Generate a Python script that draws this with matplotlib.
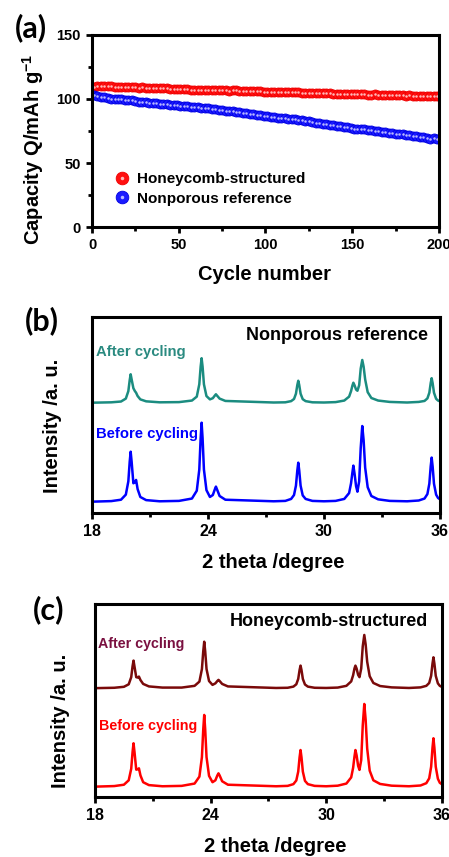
import numpy as np
import matplotlib
matplotlib.use("Agg")
import matplotlib.pyplot as plt
from matplotlib.legend_handler import HandlerTuple

plt.rcParams['font.family'] = ['Liberation Sans', 'DejaVu Sans']
plt.rcParams['font.weight'] = 'bold'
plt.rcParams['axes.labelweight'] = 'bold'
plt.rcParams['mathtext.fontset'] = 'custom'
plt.rcParams['mathtext.bf'] = 'Liberation Sans:bold'
plt.rcParams['mathtext.rm'] = 'Liberation Sans:bold'

# --- (a) cycling data, every second cycle ---
cycles = list(range(1, 200, 2))
cap_honeycomb = [
    109.6, 109.9, 110.1, 110.0, 109.8, 109.7, 109.5, 109.6, 109.4, 109.3,
    109.2, 109.3, 109.0, 108.8, 108.9, 108.7, 108.5, 108.6, 108.4, 108.3,
    108.1, 108.2, 107.9, 107.7, 107.8, 107.6, 107.4, 107.5, 107.2, 107.1,
    107.0, 106.9, 107.1, 107.0, 106.8, 106.9, 106.7, 106.8, 106.6, 106.5,
    106.7, 106.6, 106.4, 106.5, 106.3, 106.4, 106.2, 106.0, 105.8, 105.7,
    105.5, 105.6, 105.4, 105.5, 105.3, 105.4, 105.2, 105.3, 105.1, 105.0,
    104.9, 104.8, 104.7, 104.8, 104.6, 104.5, 104.6, 104.4, 104.3, 104.2,
    104.0, 103.9, 104.1, 103.8, 103.7, 103.9, 103.6, 103.5, 103.7, 103.4,
    103.3, 103.5, 103.2, 103.1, 103.0, 102.9, 103.1, 102.8, 102.7, 102.9,
    102.6, 102.7, 102.5, 102.6, 102.4, 102.3, 102.5, 102.2, 102.1, 102.0]
cap_nonporous = [
    102.8, 102.3, 101.8, 101.2, 100.7, 100.3, 100.0, 99.8, 99.6, 99.3,
    99.0, 98.8, 98.4, 97.9, 97.6, 97.4, 97.1, 96.9, 96.6, 96.4,
    96.2, 95.9, 95.6, 95.3, 95.0, 94.7, 94.4, 94.2, 94.0, 93.7,
    93.4, 93.2, 93.0, 92.6, 92.2, 91.9, 91.5, 91.1, 90.8, 90.5,
    90.2, 89.9, 89.6, 89.2, 88.8, 88.3, 87.9, 87.5, 87.1, 86.7,
    86.3, 86.0, 85.7, 85.5, 85.3, 85.0, 84.7, 84.4, 84.0, 83.6,
    83.2, 82.8, 82.4, 82.0, 81.5, 81.0, 80.5, 80.1, 79.8, 79.5,
    79.2, 78.8, 78.3, 77.8, 77.3, 76.9, 76.6, 76.4, 76.2, 75.9,
    75.6, 75.2, 74.8, 74.4, 74.0, 73.6, 73.2, 72.9, 72.6, 72.3,
    72.0, 71.6, 71.2, 70.8, 70.4, 70.0, 69.4, 69.0, 69.2, 69.0]

# --- (b), (c) XRD patterns (offset, arbitrary units) ---
two_theta = [
    18.0, 19.0, 19.5, 19.75, 19.88, 19.95, 20.0, 20.05, 20.14, 20.22, 20.28, 20.36, 20.5, 20.8, 21.5,
    22.5, 23.17, 23.42, 23.55, 23.62, 23.67, 23.72, 23.79, 23.92, 24.1, 24.25, 24.35, 24.41, 24.47, 24.6, 24.9,
    27.4, 28.0, 28.3, 28.45, 28.55, 28.62, 28.67, 28.72, 28.79, 28.9, 29.05, 29.4, 30.0,
    30.6, 31.05, 31.3, 31.4, 31.47, 31.52, 31.58, 31.66, 31.73, 31.82, 31.9, 31.98, 32.05, 32.13, 32.26, 32.45, 32.8, 33.4,
    34.3, 34.9, 35.2, 35.35, 35.45, 35.52, 35.57, 35.62, 35.69, 35.8, 35.9, 36.0]
np_before = [
    0.056, 0.059, 0.066, 0.092, 0.16, 0.26, 0.311, 0.26, 0.15, 0.155, 0.167, 0.12, 0.08, 0.064, 0.058,
    0.060, 0.072, 0.112, 0.22, 0.38, 0.459, 0.38, 0.22, 0.115, 0.08, 0.09, 0.118, 0.133, 0.118, 0.085, 0.066,
    0.058, 0.06, 0.07, 0.09, 0.138, 0.215, 0.255, 0.215, 0.138, 0.088, 0.07, 0.06, 0.058,
    0.06, 0.07, 0.1, 0.15, 0.205, 0.240, 0.2, 0.135, 0.107, 0.16, 0.33, 0.442, 0.37, 0.23, 0.13, 0.085, 0.068, 0.06,
    0.058, 0.062, 0.072, 0.095, 0.148, 0.236, 0.281, 0.236, 0.148, 0.092, 0.075, 0.068]
np_after = [
    0.561, 0.563, 0.567, 0.582, 0.62, 0.676, 0.706, 0.68, 0.635, 0.62, 0.612, 0.595, 0.578, 0.568, 0.563,
    0.564, 0.572, 0.592, 0.655, 0.745, 0.788, 0.745, 0.655, 0.595, 0.578, 0.584, 0.597, 0.604, 0.597, 0.582, 0.57,
    0.562, 0.563, 0.569, 0.58, 0.607, 0.651, 0.673, 0.651, 0.607, 0.579, 0.569, 0.563, 0.562,
    0.564, 0.572, 0.592, 0.62, 0.648, 0.663, 0.65, 0.628, 0.622, 0.65, 0.735, 0.779, 0.745, 0.68, 0.615, 0.585, 0.572, 0.565,
    0.562, 0.565, 0.57, 0.583, 0.612, 0.661, 0.686, 0.661, 0.612, 0.581, 0.572, 0.568]
hc_before = [
    0.052, 0.055, 0.062, 0.085, 0.145, 0.232, 0.277, 0.232, 0.14, 0.142, 0.147, 0.11, 0.075, 0.06, 0.054,
    0.056, 0.068, 0.104, 0.205, 0.35, 0.424, 0.35, 0.205, 0.108, 0.075, 0.085, 0.11, 0.121, 0.11, 0.08, 0.062,
    0.054, 0.056, 0.065, 0.084, 0.13, 0.204, 0.242, 0.204, 0.13, 0.082, 0.065, 0.056, 0.054,
    0.057, 0.068, 0.1, 0.15, 0.208, 0.242, 0.215, 0.16, 0.139, 0.19, 0.37, 0.481, 0.4, 0.25, 0.135, 0.085, 0.066, 0.057,
    0.054, 0.058, 0.07, 0.095, 0.155, 0.253, 0.303, 0.253, 0.155, 0.093, 0.072, 0.065]
hc_after = [
    0.563, 0.565, 0.57, 0.583, 0.62, 0.677, 0.706, 0.675, 0.62, 0.618, 0.623, 0.605, 0.585, 0.572, 0.566,
    0.566, 0.575, 0.597, 0.662, 0.755, 0.804, 0.755, 0.662, 0.6, 0.58, 0.588, 0.6, 0.606, 0.6, 0.585, 0.572,
    0.564, 0.565, 0.571, 0.583, 0.611, 0.657, 0.68, 0.657, 0.611, 0.582, 0.571, 0.565, 0.564,
    0.566, 0.575, 0.598, 0.63, 0.665, 0.68, 0.665, 0.632, 0.62, 0.665, 0.78, 0.839, 0.79, 0.7, 0.625, 0.59, 0.574, 0.567,
    0.564, 0.567, 0.575, 0.59, 0.627, 0.69, 0.723, 0.69, 0.627, 0.588, 0.575, 0.57]

W, H = 449, 857
fig = plt.figure(figsize=(W / 100, H / 100), dpi=100)


def px(x, y):
    return x / W, 1 - y / H


def frame(ax, lsize):
    for s in ax.spines.values():
        s.set_linewidth(2.2)
    ax.tick_params(which='both', direction='out', width=2.0, labelsize=lsize,
                   top=False, right=False)
    ax.tick_params(which='major', length=4.5)
    ax.tick_params(which='minor', length=3)


# (a)
ax1 = fig.add_axes([0.2049, 0.7348, 0.7728, 0.2247])
r_main, = ax1.plot(cycles, cap_honeycomb, 'o', ms=6.5, color='#ff1010', mec='#ee0000', mew=0.6)
r_hl, = ax1.plot(cycles, cap_honeycomb, 'o', ms=1.8, color='#ffb8b8', mew=0)
b_main, = ax1.plot(cycles, cap_nonporous, 'o', ms=6.5, color='#1a1aff', mec='#0000e0', mew=0.6)
b_hl, = ax1.plot(cycles, cap_nonporous, 'o', ms=1.8, color='#b8b8ff', mew=0)
ax1.set_xlim(0, 200)
ax1.set_ylim(0, 150)
ax1.set_xticks([0, 50, 100, 150, 200])
ax1.set_xticks([25, 75, 125, 175], minor=True)
ax1.set_yticks([0, 50, 100, 150])
ax1.set_yticks([25, 75, 125], minor=True)
frame(ax1, 10.5)
ax1.legend([(r_main, r_hl), (b_main, b_hl)], ['Honeycomb-structured', 'Nonporous reference'],
           handler_map={tuple: HandlerTuple(ndivide=1)}, markerscale=1.4,
           loc='lower left', bbox_to_anchor=(0.02, 0.04), frameon=False,
           fontsize=11, handletextpad=0.4, labelspacing=0.35, handlelength=1.2)

# (b)
ax2 = fig.add_axes([0.2049, 0.4018, 0.775, 0.2287])
ax2.plot(two_theta, np_before, color='#0000ff', lw=1.8)
ax2.plot(two_theta, np_after, color='#1b8c80', lw=1.8)
ax2.set_xlim(18, 36)
ax2.set_ylim(0, 1)
ax2.set_xticks([18, 24, 30, 36])
ax2.set_xticks([21, 27, 33], minor=True)
ax2.set_yticks([])
frame(ax2, 11.5)

# (c)
ax3 = fig.add_axes([0.2116, 0.0704, 0.7722, 0.2249])
ax3.plot(two_theta, hc_before, color='#ff0000', lw=1.8)
ax3.plot(two_theta, hc_after, color='#7a0a0a', lw=1.8)
ax3.set_xlim(18, 36)
ax3.set_ylim(0, 1)
ax3.set_xticks([18, 24, 30, 36])
ax3.set_xticks([21, 27, 33], minor=True)
ax3.set_yticks([])
frame(ax3, 11.5)

# panel letters
for lab, (x, y) in [('(a)', (31, 28)), ('(b)', (42, 321)), ('(c)', (49, 610))]:
    fig.text(*px(x, y), lab, fontsize=22, family='Lato', weight='bold', ha='center', va='center')

# axis labels
fig.text(*px(33, 149), r'Capacity Q/mAh g$^{\mathbf{-1}}$', fontsize=14.5, rotation=90,
         ha='center', va='center')
fig.text(*px(265, 274), 'Cycle number', fontsize=14.5, ha='center', va='center')
fig.text(*px(53, 426), 'Intensity /a. u.', fontsize=14.5, rotation=90, ha='center', va='center')
fig.text(*px(273, 562), '2 theta /degree', fontsize=14.5, ha='center', va='center')
fig.text(*px(60, 721), 'Intensity /a. u.', fontsize=14.5, rotation=90, ha='center', va='center')
fig.text(*px(275, 847), '2 theta /degree', fontsize=14.5, ha='center', va='center')

# annotations
fig.text(*px(428, 336), 'Nonporous reference', fontsize=13, ha='right', va='center')
fig.text(*px(96, 352), 'After cycling', fontsize=10.7, color='#2a8a80', ha='left', va='center')
fig.text(*px(96, 434), 'Before cycling', fontsize=10.7, color='#0000ff', ha='left', va='center')
fig.text(*px(428, 622), 'Honeycomb-structured', fontsize=13, ha='right', va='center')
fig.text(*px(98, 644), 'After cycling', fontsize=10.3, color='#7a1040', ha='left', va='center')
fig.text(*px(99, 726), 'Before cycling', fontsize=10.3, color='#ff0000', ha='left', va='center')

fig.savefig('out.png', dpi=100)
